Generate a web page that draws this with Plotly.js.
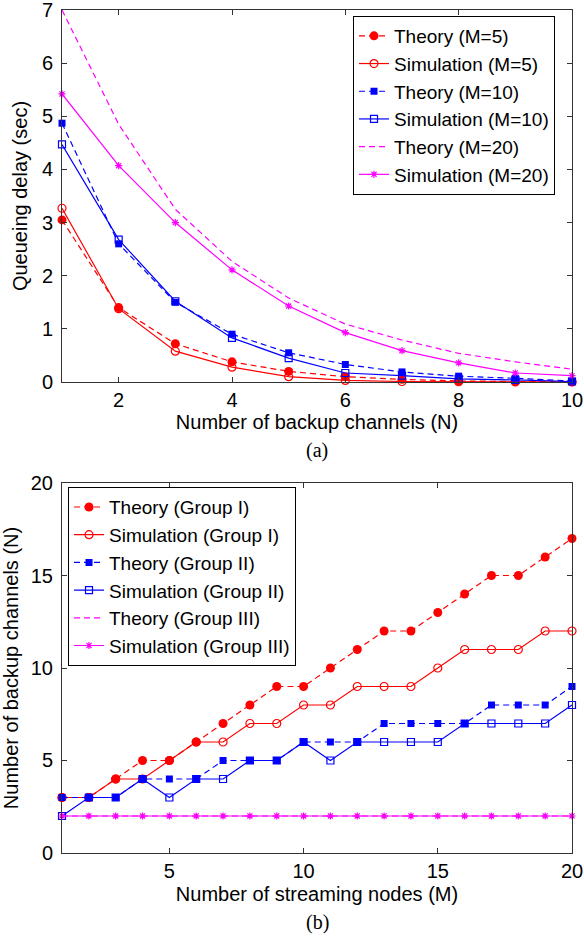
<!DOCTYPE html>
<html>
<head>
<meta charset="utf-8">
<script src="https://cdn.plot.ly/plotly-3.0.1.min.js"></script>
<style>html,body{margin:0;padding:0;background:#fff;}#chart{width:584px;height:937px;}</style>
</head>
<body>
<div id="chart"></div>
<script>
// ---- Panel (a) data ----
var channelsN = [1, 2, 3, 4, 5, 6, 7, 8, 9, 10];
var theoryM5 = [3.05, 1.40, 0.72, 0.38, 0.20, 0.10, 0.05, 0.02, 0.01, 0.005];
var simM5 = [3.27, 1.38, 0.58, 0.28, 0.10, 0.03, 0.01, 0.005, 0.002, 0.001];
var theoryM10 = [4.87, 2.60, 1.50, 0.90, 0.55, 0.33, 0.19, 0.11, 0.07, 0.02];
var simM10 = [4.47, 2.68, 1.52, 0.83, 0.45, 0.17, 0.12, 0.06, 0.04, 0.01];
var theoryM20 = [7.00, 4.85, 3.25, 2.27, 1.58, 1.09, 0.79, 0.54, 0.38, 0.24];
var simM20 = [5.42, 4.07, 3.00, 2.11, 1.43, 0.93, 0.59, 0.36, 0.17, 0.12];

// ---- Panel (b) data ----
var nodesM = [1, 2, 3, 4, 5, 6, 7, 8, 9, 10, 11, 12, 13, 14, 15, 16, 17, 18, 19, 20];
var theoryG1 = [3, 3, 4, 5, 5, 6, 7, 8, 9, 9, 10, 11, 12, 12, 13, 14, 15, 15, 16, 17];
var simG1 = [3, 3, 4, 4, 5, 6, 6, 7, 7, 8, 8, 9, 9, 9, 10, 11, 11, 11, 12, 12];
var theoryG2 = [3, 3, 3, 4, 4, 4, 5, 5, 5, 6, 6, 6, 7, 7, 7, 7, 8, 8, 8, 9];
var simG2 = [2, 3, 3, 4, 3, 4, 4, 5, 5, 6, 5, 6, 6, 6, 6, 7, 7, 7, 7, 8];
var theoryG3 = [2, 2, 2, 2, 2, 2, 2, 2, 2, 2, 2, 2, 2, 2, 2, 2, 2, 2, 2, 2];
var simG3 = [2, 2, 2, 2, 2, 2, 2, 2, 2, 2, 2, 2, 2, 2, 2, 2, 2, 2, 2, 2];

var RED = '#ff0000', BLUE = '#0000ff', MAG = '#ff00ff';
var DASH = '6px,4px';

function tr(x, y, name, color, dashed, symbol, msize, xa, ya, lg) {
  var t = {
    x: x, y: y, name: name, type: 'scatter', xaxis: xa, yaxis: ya, legend: lg,
    mode: symbol ? 'lines+markers' : 'lines',
    cliponaxis: false,
    line: {color: color, width: 1.2, dash: dashed ? DASH : 'solid'}
  };
  if (symbol) {
    var open = symbol.indexOf('open') >= 0;
    t.marker = {symbol: symbol, size: msize, color: color,
      line: {color: color, width: open ? 1.2 : 0}};
  }
  return t;
}

var data = [
  tr(channelsN, theoryM5, 'Theory (M=5)', RED, true, 'circle', 9, 'x', 'y', 'legend'),
  tr(channelsN, simM5, 'Simulation (M=5)', RED, false, 'circle-open', 8, 'x', 'y', 'legend'),
  tr(channelsN, theoryM10, 'Theory (M=10)', BLUE, true, 'square', 7, 'x', 'y', 'legend'),
  tr(channelsN, simM10, 'Simulation (M=10)', BLUE, false, 'square-open', 7, 'x', 'y', 'legend'),
  tr(channelsN, theoryM20, 'Theory (M=20)', MAG, true, null, 0, 'x', 'y', 'legend'),
  tr(channelsN, simM20, 'Simulation (M=20)', MAG, false, 'asterisk-open', 6, 'x', 'y', 'legend'),

  tr(nodesM, theoryG1, 'Theory (Group I)', RED, true, 'circle', 9, 'x2', 'y2', 'legend2'),
  tr(nodesM, simG1, 'Simulation (Group I)', RED, false, 'circle-open', 8, 'x2', 'y2', 'legend2'),
  tr(nodesM, theoryG2, 'Theory (Group II)', BLUE, true, 'square', 7, 'x2', 'y2', 'legend2'),
  tr(nodesM, simG2, 'Simulation (Group II)', BLUE, false, 'square-open', 7, 'x2', 'y2', 'legend2'),
  tr(nodesM, theoryG3, 'Theory (Group III)', MAG, true, null, 0, 'x2', 'y2', 'legend2'),
  tr(nodesM, simG3, 'Simulation (Group III)', MAG, false, 'asterisk-open', 6, 'x2', 'y2', 'legend2')
];

var FONT = 'Liberation Sans, Arial, Helvetica, sans-serif';
function ax(extra) {
  var a = {
    showline: true, linecolor: '#333', linewidth: 1, mirror: 'ticks',
    ticks: 'inside', ticklen: 5, tickcolor: '#333', tickwidth: 1,
    showgrid: false, zeroline: false, automargin: false,
    ticklabeloverflow: 'allow',
    tickfont: {family: FONT, size: 20, color: '#000'}
  };
  for (var k in extra) a[k] = extra[k];
  return a;
}

var layout = {
  width: 584, height: 937,
  margin: {l: 62, r: 12, t: 10, b: 84},
  paper_bgcolor: '#fff', plot_bgcolor: '#fff',
  font: {family: FONT, size: 20, color: '#000'},
  showlegend: true,
  xaxis: ax({anchor: 'y', domain: [0, 1], range: [1, 10], tickvals: [2, 4, 6, 8, 10],
    ticklabelstandoff: 0,
    title: {text: 'Number of backup channels (N)', font: {family: FONT, size: 20}, standoff: 2}}),
  yaxis: ax({anchor: 'x', domain: [0.5587, 1], range: [0, 7], tickvals: [0, 1, 2, 3, 4, 5, 6, 7],
    ticklabelstandoff: 4,
    title: {text: 'Queueing delay (sec)', font: {family: FONT, size: 20}, standoff: 8}}),
  xaxis2: ax({anchor: 'y2', domain: [0, 1], range: [1, 20], tickvals: [5, 10, 15, 20],
    ticklabelstandoff: 0,
    title: {text: 'Number of streaming nodes (M)', font: {family: FONT, size: 20}, standoff: 5}}),
  yaxis2: ax({anchor: 'x2', domain: [0, 0.4389], range: [0, 20], tickvals: [0, 5, 10, 15, 20],
    ticklabelstandoff: 4,
    title: {text: 'Number of backup channels (N)', font: {family: FONT, size: 20}, standoff: 6}}),
  legend: {x: 0.5706, y: 0.9929, xanchor: 'left', yanchor: 'top',
    bordercolor: '#000', borderwidth: 1, bgcolor: '#fff',
    font: {family: FONT, size: 19, color: '#000'}, tracegroupgap: 0, itemwidth: 30},
  legend2: {x: 0.0118, y: 0.434, xanchor: 'left', yanchor: 'top',
    bordercolor: '#000', borderwidth: 1, bgcolor: '#fff',
    font: {family: FONT, size: 19, color: '#000'}, tracegroupgap: 0, itemwidth: 30},
  annotations: [
    {text: '(a)', xref: 'paper', yref: 'paper', x: 0.5, y: 0.4769, xanchor: 'center', yanchor: 'middle',
      showarrow: false, font: {family: 'Liberation Serif, Times New Roman, serif', size: 20, color: '#000'}},
    {text: '(b)', xref: 'paper', yref: 'paper', x: 0.5, y: -0.0819, xanchor: 'center', yanchor: 'middle',
      showarrow: false, font: {family: 'Liberation Serif, Times New Roman, serif', size: 20, color: '#000'}}
  ]
};

Plotly.newPlot('chart', data, layout, {staticPlot: true, displayModeBar: false});
</script>
</body>
</html>
